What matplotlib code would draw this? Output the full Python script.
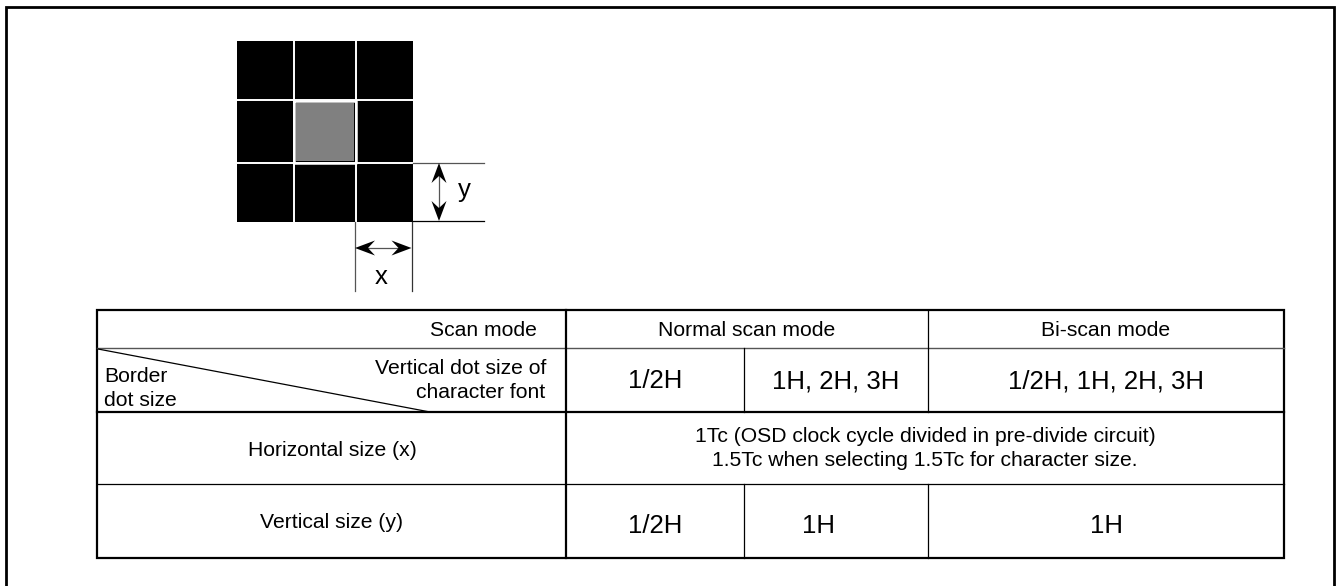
import matplotlib
matplotlib.use("Agg")
import matplotlib.pyplot as plt
from matplotlib.patches import Rectangle, Polygon

plt.rcParams['font.family'] = ['Liberation Sans', 'DejaVu Sans']

# table text: (x, y, text, ha, size)
small = 15.2
big = 18.5
cells = [
    (537, 331, "Scan mode", "right", small),
    (747, 331, "Normal scan mode", "center", small),
    (1106, 331, "Bi-scan mode", "center", small),
    (546, 368, "Vertical dot size of", "right", small),
    (545, 393, "character font", "right", small),
    (104, 376, "Border", "left", small),
    (104, 400, "dot size", "left", small),
    (655, 381, "1/2H", "center", big),
    (836, 381, "1H, 2H, 3H", "center", big),
    (1106, 381, "1/2H, 1H, 2H, 3H", "center", big),
    (332, 450, "Horizontal size (x)", "center", small),
    (925, 436, "1Tc (OSD clock cycle divided in pre-divide circuit)", "center", small),
    (925, 460, "1.5Tc when selecting 1.5Tc for character size.", "center", small),
    (332, 522, "Vertical size (y)", "center", small),
    (655, 526, "1/2H", "center", big),
    (818, 526, "1H", "center", big),
    (1106, 526, "1H", "center", big),
]

col_x = [97, 566, 744, 928, 1284]
row_y = [310, 348, 412, 484, 558]

fig = plt.figure(figsize=(13.37, 5.86), dpi=100)
ax = fig.add_axes([0, 0, 1, 1])
ax.set_xlim(0, 1337)
ax.set_ylim(586, 0)
ax.axis("off")


def arrowhead(x, y, dx, dy):
    # barbed head with its tip at x, y, pointing along dx, dy
    px, py = -dy, dx
    pts = [(x, y),
           (x - 20 * dx + 7.5 * px, y - 20 * dy + 7.5 * py),
           (x - 13 * dx, y - 13 * dy),
           (x - 20 * dx - 7.5 * px, y - 20 * dy - 7.5 * py)]
    ax.add_patch(Polygon(pts, closed=True, color="black", lw=0, zorder=3))


# page frame, open at the bottom
ax.plot([6, 6, 1334, 1334], [586, 6.5, 6.5, 586], color="black", lw=2, solid_joinstyle="miter")

# dot diagram
ax.add_patch(Rectangle((237, 41), 176, 181, color="black", lw=0))
for x in [294, 356]:
    ax.plot([x, x], [41, 222], color="white", lw=1.4)
for y in [100, 163]:
    ax.plot([237, 413], [y, y], color="white", lw=1.4)
ax.plot([294, 356, 356, 294, 294], [100.5, 100.5, 162.5, 162.5, 100.5], color="white", lw=1.8)
ax.add_patch(Rectangle((296, 103), 58, 58, color="#808080", lw=0))

# dimension lines
ax.plot([413, 484], [163, 163], color="#555555", lw=0.9)
ax.plot([413, 484], [221, 221], color="black", lw=0.9)
ax.plot([355, 355], [222, 291], color="#555555", lw=0.9)
ax.plot([411.5, 411.5], [222, 291], color="#333333", lw=0.9)
ax.plot([439, 439], [170, 214], color="#555555", lw=0.9)
ax.plot([362, 405], [248, 248], color="#555555", lw=0.9)
arrowhead(439, 163, 0, -1)
arrowhead(439, 221, 0, 1)
arrowhead(355, 248, -1, 0)
arrowhead(411.5, 248, 1, 0)
ax.text(464, 190, "y", fontsize=big, ha="center", va="center")
ax.text(381, 277, "x", fontsize=big, ha="center", va="center")

# table rules
ax.plot([col_x[0], col_x[-1]], [row_y[1], row_y[1]], color="#555555", lw=1)
ax.plot([col_x[0], col_x[-1]], [row_y[2], row_y[2]], color="black", lw=1.6)
ax.plot([col_x[0], col_x[-1]], [row_y[3], row_y[3]], color="black", lw=0.9)
ax.plot([col_x[1], col_x[1]], [row_y[0], row_y[4]], color="black", lw=1.6)
ax.plot([col_x[3], col_x[3]], [row_y[0], row_y[2]], color="black", lw=0.9)
ax.plot([col_x[3], col_x[3]], [row_y[3], row_y[4]], color="black", lw=0.9)
ax.plot([col_x[2], col_x[2]], [row_y[1], row_y[2]], color="black", lw=0.9)
ax.plot([col_x[2], col_x[2]], [row_y[3], row_y[4]], color="black", lw=0.9)
ax.plot([98, 430], [349, 412], color="black", lw=0.9)
ax.add_patch(Rectangle((col_x[0], row_y[0]), col_x[-1] - col_x[0], row_y[-1] - row_y[0],
                       fill=False, ec="black", lw=1.6))

for x, y, s, ha, size in cells:
    ax.text(x, y, s, ha=ha, va="center", fontsize=size, color="black")

fig.savefig("out.png", dpi=100)
